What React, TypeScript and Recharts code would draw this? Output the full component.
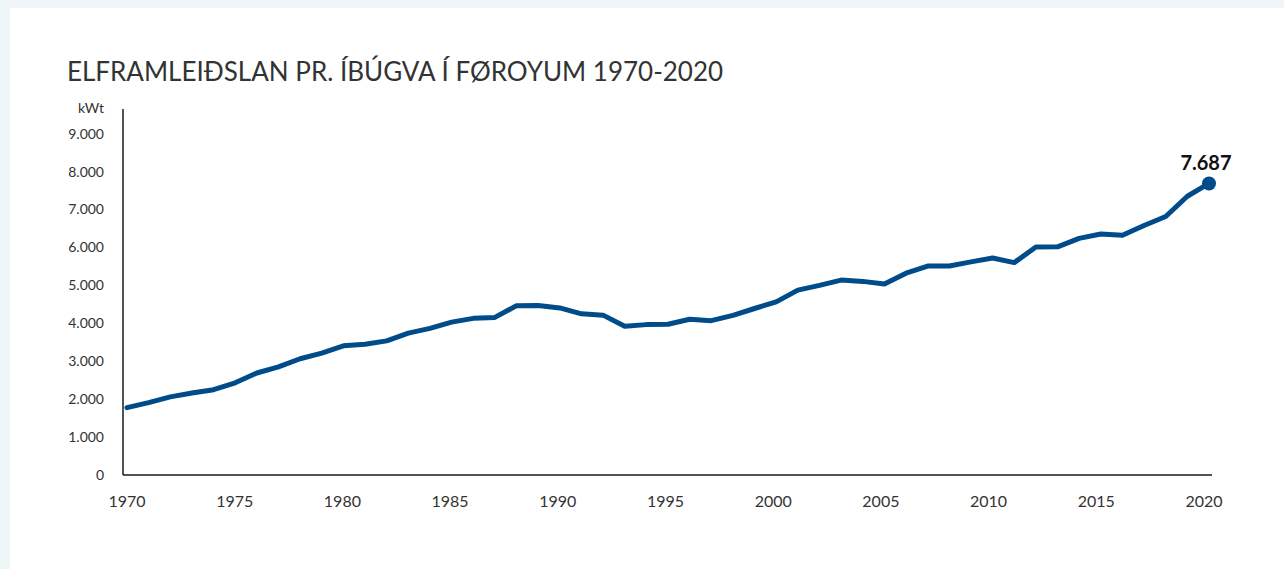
import React from "react";
import { LineChart, Line, XAxis, YAxis } from "recharts";

const years: number[] = [
  1970, 1971, 1972, 1973, 1974, 1975, 1976, 1977, 1978, 1979,
  1980, 1981, 1982, 1983, 1984, 1985, 1986, 1987, 1988, 1989,
  1990, 1991, 1992, 1993, 1994, 1995, 1996, 1997, 1998, 1999,
  2000, 2001, 2002, 2003, 2004, 2005, 2006, 2007, 2008, 2009,
  2010, 2011, 2012, 2013, 2014, 2015, 2016, 2017, 2018, 2019, 2020,
];

const kwhPerCapita: number[] = [
  1775, 1910, 2060, 2160, 2250, 2430, 2690, 2850, 3065, 3215,
  3405, 3445, 3537, 3740, 3865, 4030, 4130, 4155, 4465, 4468,
  4405, 4250, 4215, 3920, 3965, 3975, 4105, 4070, 4210, 4390,
  4565, 4875, 5000, 5140, 5105, 5035, 5320, 5510, 5510, 5620,
  5720, 5600, 6010, 6015, 6240, 6355, 6320, 6580, 6815, 7350, 7687,
];

const yTicks: number[] = [0, 1000, 2000, 3000, 4000, 5000, 6000, 7000, 8000, 9000];
const xTicks: number[] = [1970, 1975, 1980, 1985, 1990, 1995, 2000, 2005, 2010, 2015, 2020];

const title = "ELFRAMLEIÐSLAN PR. ÍBÚGVA Í FØROYUM 1970-2020";
const unitLabel = "kWt";

const data = years.map((y, i) => ({ year: y, value: kwhPerCapita[i] }));

const fmt = (v: number): string =>
  String(Math.round(v)).replace(/\B(?=(\d{3})+(?!\d))/g, ".");

const LINE_COLOR = "#004b8a";
const FONT = "Lato, 'Open Sans', sans-serif";

const lastIndex = data.length - 1;

const EndDot = (props: any) => {
  const { cx, cy, index } = props;
  if (index !== lastIndex || cx == null || cy == null) return <g key={`d${index}`} />;
  return <circle key={`d${index}`} cx={cx} cy={cy} r={7} fill={LINE_COLOR} />;
};

const EndLabel = (props: any) => {
  const { x, y, index, value } = props;
  if (index !== lastIndex) return null;
  return (
    <text
      x={x - 3}
      y={y - 13}
      textAnchor="middle"
      fontFamily={FONT}
      fontWeight={700}
      fontSize={20}
      fill="#111"
    >
      {fmt(value)}
    </text>
  );
};

export default function App() {
  return (
    <div
      style={{
        position: "absolute",
        left: 0,
        top: 0,
        width: 1284,
        height: 569,
        background: "#edf5f7",
        overflow: "hidden",
      }}
    >
      <div
        style={{
          position: "absolute",
          left: 10,
          top: 8,
          width: 1274,
          height: 561,
          background: "#ffffff",
        }}
      />
      <div
        style={{
          position: "absolute",
          left: 67,
          top: 58,
          fontFamily: FONT,
          fontSize: 26,
          lineHeight: "26px",
          color: "#333333",
          whiteSpace: "nowrap",
        }}
      >
        {title}
      </div>
      <div
        style={{
          position: "absolute",
          left: 0,
          width: 104,
          top: 100,
          textAlign: "right",
          fontFamily: FONT,
          fontSize: 14,
          lineHeight: "16px",
          color: "#333333",
        }}
      >
        {unitLabel}
      </div>
      <div style={{ position: "absolute", left: 0, top: 0 }}>
        <LineChart
          width={1284}
          height={569}
          data={data}
          margin={{ top: 109, right: 72, bottom: 64, left: 63 }}
        >
          <XAxis
            xAxisId="labels"
            dataKey="year"
            type="number"
            domain={[1970, 2020]}
            ticks={xTicks}
            padding={{ left: 4, right: 8 }}
            height={30}
            tickLine={false}
            tickSize={0}
            tickMargin={21}
            axisLine={{ stroke: "#1a1a1a", strokeWidth: 1.5 }}
            tick={{ fill: "#333333", fontSize: 16, fontFamily: FONT }}
            interval={0}
          />
          <XAxis
            xAxisId="points"
            dataKey="year"
            type="number"
            domain={[1970, 2020]}
            padding={{ left: 4, right: 3 }}
            hide
          />
          <YAxis
            type="number"
            domain={[0, 9650]}
            ticks={yTicks}
            width={60}
            tickLine={false}
            tickSize={0}
            tickMargin={19}
            axisLine={{ stroke: "#1a1a1a", strokeWidth: 1.5 }}
            tick={{ fill: "#333333", fontSize: 14, fontFamily: FONT }}
            tickFormatter={fmt}
            interval={0}
            allowDataOverflow
          />
          <Line
            xAxisId="points"
            type="linear"
            dataKey="value"
            stroke={LINE_COLOR}
            strokeWidth={5}
            strokeLinejoin="round"
            strokeLinecap="round"
            dot={EndDot}
            activeDot={false}
            label={EndLabel}
            isAnimationActive={false}
          />
        </LineChart>
      </div>
    </div>
  );
}
